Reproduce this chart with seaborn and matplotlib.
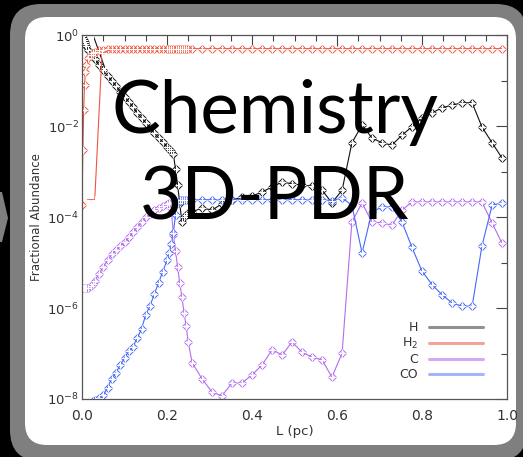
import matplotlib
matplotlib.use("Agg")
import matplotlib.pyplot as plt
import seaborn as sns
import pandas as pd
import numpy as np
from matplotlib.patches import FancyBboxPatch, Polygon
from matplotlib.lines import Line2D
from matplotlib.ticker import FixedLocator, NullFormatter

sns.set_theme(style="white")
plt.rcParams['font.family'] = ['DejaVu Sans']
plt.rcParams['mathtext.default'] = 'regular'

# ---------------- data ----------------
x_pc = [0.000, 0.002, 0.004, 0.006, 0.008, 0.010, 0.015, 0.020, 0.025, 0.030,
        0.04, 0.05, 0.06, 0.07, 0.08, 0.09, 0.10, 0.11, 0.12, 0.13, 0.14,
        0.15, 0.16, 0.17, 0.18, 0.19, 0.20, 0.205, 0.21, 0.215, 0.22, 0.225,
        0.23, 0.235, 0.24, 0.245, 0.25, 0.259, 0.282, 0.306, 0.329, 0.353,
        0.376, 0.400, 0.424, 0.447, 0.471, 0.494, 0.518, 0.541, 0.565, 0.588,
        0.612, 0.635, 0.659, 0.682, 0.706, 0.729, 0.753, 0.776, 0.800, 0.824,
        0.847, 0.871, 0.894, 0.918, 0.941, 0.965, 0.988]

# log10 of fractional abundance
h_log10 = [-0.02, -0.07, -0.11, -0.15, -0.20, -0.24, -0.33, -0.40, -0.46, -0.53,
           -0.66, -0.77, -0.90, -1.01, -1.12, -1.25, -1.36, -1.47, -1.58, -1.71, -1.82,
           -1.93, -2.04, -2.15, -2.26, -2.35, -2.46, -2.50, -2.55, -2.62, -2.95, -3.30,
           -3.70, -4.11, -4.00, -3.95, -3.92, -3.89, -3.80, -3.85, -3.71, -3.63,
           -3.56, -3.54, -3.45, -3.34, -3.23, -3.27, -3.30, -3.32, -3.41, -3.69,
           -3.41, -2.37, -1.98, -2.26, -2.37, -2.42, -2.20, -2.02, -1.82, -1.71,
           -1.60, -1.54, -1.49, -1.49, -2.02, -2.37, -2.70]

h2_log10 = [-3.74, -2.53, -1.65, -1.10, -0.81, -0.66, -0.51, -0.44, -0.40, -0.37,
            -0.34, -0.32, -0.31, -0.30, -0.30, -0.30, -0.30, -0.30, -0.30, -0.30, -0.30,
            -0.30, -0.30, -0.30, -0.30, -0.30, -0.30, -0.30, -0.30, -0.30, -0.30, -0.30,
            -0.30, -0.30, -0.30, -0.30, -0.30, -0.30, -0.30, -0.30, -0.30, -0.30,
            -0.30, -0.30, -0.30, -0.30, -0.30, -0.30, -0.30, -0.30, -0.30, -0.30,
            -0.30, -0.30, -0.30, -0.30, -0.30, -0.30, -0.30, -0.30, -0.30, -0.30,
            -0.30, -0.30, -0.30, -0.30, -0.30, -0.30, -0.30]

c_log10 = [-5.56, -5.56, -5.57, -5.56, -5.56, -5.55, -5.56, -5.52, -5.47, -5.40,
           -5.25, -5.10, -4.95, -4.82, -4.73, -4.64, -4.55, -4.45, -4.33, -4.22, -4.10,
           -4.00, -3.93, -3.85, -3.80, -3.76, -3.72, -3.70, -3.80, -4.40, -4.75, -5.10,
           -5.45, -5.75, -6.10, -6.40, -6.75, -7.20, -7.55, -7.85, -7.93, -7.65,
           -7.65, -7.47, -7.25, -6.92, -7.03, -6.75, -6.97, -7.08, -7.14, -7.52,
           -6.99, -4.11, -3.69, -4.11, -4.13, -4.18, -3.85, -3.67, -3.67, -3.67,
           -3.67, -3.67, -3.67, -3.67, -3.67, -4.13, -4.57]

co_log10 = [-9.50, -9.40, -9.30, -9.20, -9.10, -9.00, -8.70, -8.40, -8.05, -8.02,
            -7.98, -7.92, -7.75, -7.55, -7.42, -7.25, -7.10, -6.95, -6.85, -6.66, -6.46,
            -6.15, -5.95, -5.70, -5.45, -5.20, -4.95, -4.80, -4.60, -4.35, -3.95, -3.70,
            -3.62, -3.62, -3.63, -3.62, -3.62, -3.63, -3.62, -3.62, -3.63, -3.62,
            -3.62, -3.63, -3.62, -3.62, -3.63, -3.62, -3.62, -3.63, -3.62, -3.64,
            -3.58, -3.74, -4.79, -3.89, -3.78, -3.78, -4.11, -4.66, -5.19, -5.49,
            -5.71, -5.89, -5.96, -5.96, -4.64, -3.74, -3.69]

# second (plus-marked) model where it departs from the first one
h_b_x = [0.026, 0.054]
h_b_log10 = [0.00, -0.73]
h2_b_x = [0.010, 0.030, 0.047, 0.070]
h2_b_log10 = [-3.62, -3.62, -0.40, -0.31]

species = ["H", "H$_2$", "C", "CO"]
line_colors = ["#111111", "#f05540", "#b46cf0", "#4668fa"]
legend_colors = ["#909090", "#f5a29a", "#d4aaf6", "#a6b4fb"]

x_ticks = [0.0, 0.2, 0.4, 0.6, 0.8, 1.0]
x_ticklabels = ["0.0", "0.2", "0.4", "0.6", "0.8", "1.0"]
x_minor = [0.05, 0.10, 0.15, 0.25, 0.30, 0.35, 0.45, 0.50, 0.55,
           0.65, 0.70, 0.75, 0.85, 0.90, 0.95]
y_ticks = [1e0, 1e-2, 1e-4, 1e-6, 1e-8]
y_ticklabels = ["10$^{0}$", "10$^{-2}$", "10$^{-4}$", "10$^{-6}$", "10$^{-8}$"]
y_minor = [1e-1, 1e-3, 1e-5, 1e-7]

rows = []
for name, vals in zip(species, [h_log10, h2_log10, c_log10, co_log10]):
    for xv, lv in zip(x_pc, vals):
        rows.append({"L": xv, "abund": 10.0 ** lv, "species": name})
df = pd.DataFrame(rows)
df_b = pd.DataFrame(
    [{"L": xv, "abund": 10.0 ** lv, "species": "H"} for xv, lv in zip(h_b_x, h_b_log10)] +
    [{"L": xv, "abund": 10.0 ** lv, "species": "H$_2$"} for xv, lv in zip(h2_b_x, h2_b_log10)])

# ---------------- figure ----------------
W, H = 523, 457
fig = plt.figure(figsize=(W / 100, H / 100), dpi=100)
fig.patch.set_facecolor("black")

def px_box(x0, y0, x1, y1):
    return (x0 / 100, (H - y1) / 100, (x1 - x0) / 100, (y1 - y0) / 100)

bx, by, bw, bh = px_box(10, 4, 527, 461)
fig.patches.append(FancyBboxPatch((bx, by), bw, bh,
                                  boxstyle="round,pad=0,rounding_size=0.31",
                                  transform=fig.dpi_scale_trans,
                                  fc="#7f7f7f", ec="none", zorder=-3))
bx, by, bw, bh = px_box(25, 17, 516, 445)
fig.patches.append(FancyBboxPatch((bx, by), bw, bh,
                                  boxstyle="round,pad=0,rounding_size=0.22",
                                  transform=fig.dpi_scale_trans,
                                  fc="white", ec="none", zorder=-2))
chev = [(0, 192), (2, 192), (8, 218), (2, 242), (0, 242)]
fig.patches.append(Polygon([(a / 100, (H - b) / 100) for a, b in chev],
                           closed=True, transform=fig.dpi_scale_trans,
                           fc="#7f7f7f", ec="none", zorder=-3))

ax = fig.add_axes([82 / W, 1 - 399 / H, 425 / W, 364 / H])
ax.set_facecolor("white")
ax.set_zorder(1)

for name, col in zip(species, line_colors):
    sub = df[df.species == name]
    sns.lineplot(data=sub, x="L", y="abund", ax=ax, color=col, lw=0.8,
                 estimator=None, sort=False, marker="D", markersize=4.4,
                 markerfacecolor="none", markeredgecolor=col,
                 markeredgewidth=0.7, legend=False)
    sns.lineplot(data=sub, x="L", y="abund", ax=ax, color=col, lw=0,
                 estimator=None, sort=False, marker="+", markersize=6,
                 markeredgewidth=0.8, legend=False)
    subb = df_b[df_b.species == name]
    if len(subb):
        sns.lineplot(data=subb, x="L", y="abund", ax=ax, color=col, lw=0.8,
                     estimator=None, sort=False, marker="+", markersize=6,
                     markeredgewidth=0.8, legend=False)

ax.set_yscale("log")
ax.set_xlim(0, 1)
ax.set_ylim(1e-8, 1)

ax.xaxis.set_major_locator(FixedLocator(x_ticks))
ax.set_xticklabels(x_ticklabels)
ax.xaxis.set_minor_locator(FixedLocator(x_minor))
ax.yaxis.set_major_locator(FixedLocator(y_ticks))
ax.set_yticklabels(y_ticklabels)
ax.yaxis.set_minor_locator(FixedLocator(y_minor))
ax.yaxis.set_minor_formatter(NullFormatter())

ax.tick_params(which="both", direction="in", top=True, right=True,
               colors="#444444", labelcolor="#333333", width=0.8)
ax.tick_params(which="major", length=8)
ax.tick_params(which="minor", length=4.5)
ax.tick_params(axis="x", which="major", pad=7, labelsize=10)
ax.tick_params(axis="y", which="major", pad=2, labelsize=9.5)
for s in ax.spines.values():
    s.set_color("#555555")
    s.set_linewidth(0.9)

ax.set_xlabel("L (pc)", fontsize=9.5, color="#333333", labelpad=2)
ax.set_ylabel("Fractional Abundance", fontsize=8.5, color="#333333", labelpad=3)

handles = [Line2D([], [], color=c, lw=2.2) for c in legend_colors]
leg = ax.legend(handles, species, loc="lower right", frameon=False,
                markerfirst=False, handlelength=4.3, handletextpad=0.9,
                labelspacing=0.15, fontsize=9, borderpad=0, borderaxespad=0,
                bbox_to_anchor=((483 - 82) / 425, (399 - 381) / 364))
for t in leg.get_texts():
    t.set_color("#333333")

fig.text(275 / W, 1 - 133 / H, "Chemistry", ha="center", va="baseline",
         fontsize=52.5, family=["Lato", "DejaVu Sans"], color="black", zorder=10)
fig.text(275 / W, 1 - 219 / H, "3D-PDR", ha="center", va="baseline",
         fontsize=52.5, family=["Lato", "DejaVu Sans"], color="black", zorder=10)

fig.savefig("out.png", dpi=100, facecolor=fig.get_facecolor())
